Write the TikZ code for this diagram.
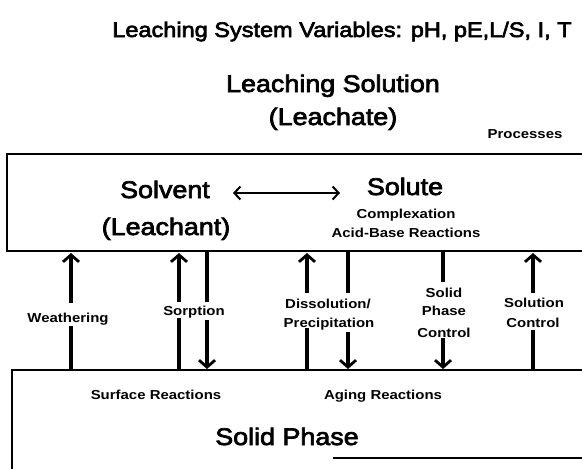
\documentclass[tikz,border=0pt]{standalone}
\usepackage{fontspec}
\setmainfont{Liberation Sans}[FakeStretch=1.15]
\newfontfamily\heavyfont{Liberation Sans}[FakeStretch=1.12, FakeBold=3]
\usetikzlibrary{arrows.meta}
\begin{document}
\begin{tikzpicture}[x=1pt,y=-1pt,
  txt/.style={inner sep=0pt, anchor=base},
  big/.style={txt, font=\heavyfont\fontsize{24}{28}\selectfont},
  ttl/.style={txt, font=\heavyfont\fontsize{21}{25}\selectfont},
  small/.style={txt, font=\bfseries\fontsize{13}{15}\selectfont},
  boxline/.style={line width=1.6pt},
  seg/.style={line width=3.5pt},
  flow/.style={line width=3.5pt, -{Straight Barb[length=7pt,width=16pt,line width=2.8pt]}},
  dbl/.style={line width=2pt, {Straight Barb[length=6pt,width=13pt]}-{Straight Barb[length=6pt,width=13pt]}}]
\useasboundingbox (0,0) rectangle (582,469);

% titles
\node[ttl] (title) at (342,37) {Leaching System Variables: pH, pE,L/S, I, T};
\node[big] (ls) at (333,92) {Leaching Solution};
\node[big] (leachate) at (333,125) {(Leachate)};
\node[small] (proc) at (525,138) {Processes};

% upper box
\draw[boxline] (582,154) -- (7,154) -- (7,251) -- (582,251);
\node[big] (solvent) at (165,198) {Solvent};
\node[big] (leachant) at (166,235) {(Leachant)};
\node[big] (solute) at (405,195) {Solute};
\node[small] (complex) at (406,218) {Complexation};
\node[small] (acid) at (406,237) {Acid-Base Reactions};
\coordinate (dl) at (233,193);
\coordinate (dr) at (340,193);
\draw[dbl] (dl) -- (dr);

% lower box
\draw[boxline] (582,370) -- (12,370) -- (12,469);
\draw[boxline] (333,458) -- (582,458);
\node[small] (surf) at (156,399) {Surface Reactions};
\node[small] (aging) at (383,399) {Aging Reactions};
\node[big] (solid) at (287,445) {Solid Phase};

% coordinates of process arrows
\coordinate (wA) at (71,370);  \coordinate (wB) at (71,326);
\coordinate (wC) at (71,303);  \coordinate (wD) at (71,253);
\coordinate (suA) at (179,370); \coordinate (suB) at (179,318);
\coordinate (suC) at (179,302); \coordinate (suD) at (179,253);
\coordinate (sdA) at (207,252); \coordinate (sdB) at (207,302);
\coordinate (sdC) at (207,320); \coordinate (sdD) at (207,369);
\coordinate (duA) at (307,370); \coordinate (duB) at (307,328);
\coordinate (duC) at (307,293); \coordinate (duD) at (307,253);
\coordinate (ddA) at (348,252); \coordinate (ddB) at (348,293);
\coordinate (ddC) at (348,332); \coordinate (ddD) at (348,369);
\coordinate (spA) at (443,252); \coordinate (spB) at (443,282);
\coordinate (spC) at (443,338); \coordinate (spD) at (443,369);
\coordinate (scA) at (533,370); \coordinate (scB) at (533,330);
\coordinate (scC) at (533,293); \coordinate (scD) at (533,253);

% arrows
\draw[seg] (wA) -- (wB);   \draw[flow] (wC) -- (wD);
\draw[seg] (suA) -- (suB); \draw[flow] (suC) -- (suD);
\draw[seg] (sdA) -- (sdB); \draw[flow] (sdC) -- (sdD);
\draw[seg] (duA) -- (duB); \draw[flow] (duC) -- (duD);
\draw[seg] (ddA) -- (ddB); \draw[flow] (ddC) -- (ddD);
\draw[seg] (spA) -- (spB); \draw[flow] (spC) -- (spD);
\draw[seg] (scA) -- (scB); \draw[flow] (scC) -- (scD);

% process labels
\node[small] (weath) at (68,322) {Weathering};
\node[small] (sorp) at (194,315) {Sorption};
\node[small] (diss) at (328,308) {Dissolution/};
\node[small] (prec) at (329,327) {Precipitation};
\node[small] (spc1) at (444,297) {Solid};
\node[small] (spc2) at (444,315) {Phase};
\node[small] (spc3) at (444,337) {Control};
\node[small] (sc1) at (534,307) {Solution};
\node[small] (sc2) at (533,327) {Control};
\end{tikzpicture}
\end{document}
